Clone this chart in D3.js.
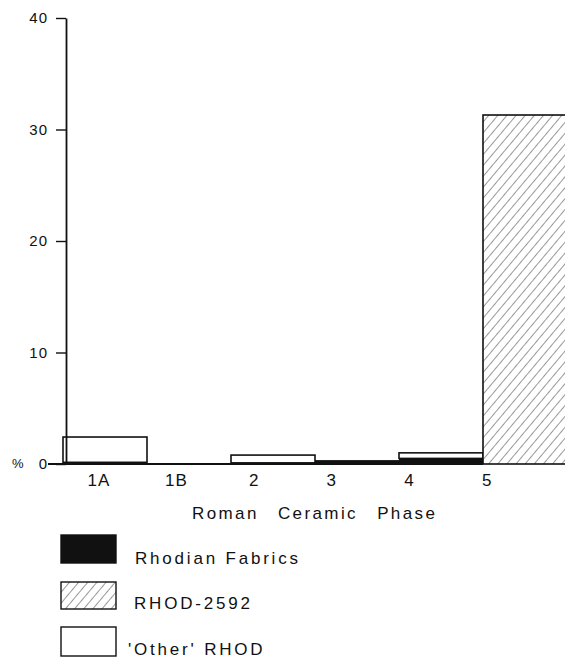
<!DOCTYPE html>
<html>
<head>
<meta charset="utf-8">
<script src="https://cdn.jsdelivr.net/npm/d3@7"></script>
<style>
  body { margin: 0; background: #fff; }
  text { font-family: "Liberation Sans", Arial, sans-serif; fill: #111; }
</style>
</head>
<body>
<div id="chart"></div>
<script>
// data
const phases = ["1A", "1B", "2", "3", "4", "5"];
const rhodian = [0.15, 0, 0.1, 0.35, 0.5, 0];
const other = [2.27, 0, 0.7, 0, 0.5, 0];
const rhod2592 = [0, 0, 0, 0, 0, 31.3];
const yTicks = [0, 10, 20, 30, 40];

const svg = d3.select('#chart')
  .append('svg')
  .attr('width', 565)
  .attr('height', 659);

const defs = svg.append("defs");
const hatch = defs.append("pattern")
  .attr("id", "hatch")
  .attr("patternUnits", "userSpaceOnUse")
  .attr("width", 7)
  .attr("height", 7)
  .attr("patternTransform", "rotate(40)");
hatch.append("rect").attr("width", 7).attr("height", 7).attr("fill", "#fff");
hatch.append("line")
  .attr("x1", 0).attr("y1", 0).attr("x2", 0).attr("y2", 7)
  .attr("stroke", "#333").attr("stroke-width", 1);

const x = d3.scaleBand()
  .domain(phases)
  .range([63, 567])
  .padding(0);

// labels in the original sit slightly left of the bars
const xLab = d3.scaleBand()
  .domain(phases)
  .range([60, 526]);

const y = d3.scaleLinear()
  .domain([0, 40])
  .range([464, 18]);

const rows = phases.map((p, i) => ({
  phase: p,
  rhodian: rhodian[i],
  other: other[i],
  rhod2592: rhod2592[i]
}));

// Bars: black Rhodian at bottom, white 'Other' on top, hatched RHOD-2592
const bars = svg.append("g");
bars.selectAll("rect.other")
  .data(rows.filter(d => d.other > 0))
  .join("rect")
  .attr("class", "other")
  .attr("x", d => x(d.phase))
  .attr("y", d => y(d.rhodian + d.other))
  .attr("width", x.bandwidth())
  .attr("height", d => y(d.rhodian) - y(d.rhodian + d.other))
  .attr("fill", "#fff")
  .attr("stroke", "#111")
  .attr("stroke-width", 1.6);

bars.selectAll("rect.rhodian")
  .data(rows.filter(d => d.rhodian > 0))
  .join("rect")
  .attr("class", "rhodian")
  .attr("x", d => x(d.phase))
  .attr("y", d => y(d.rhodian))
  .attr("width", x.bandwidth())
  .attr("height", d => y(0) - y(d.rhodian))
  .attr("fill", "#111");

bars.selectAll("rect.rhod2592")
  .data(rows.filter(d => d.rhod2592 > 0))
  .join("rect")
  .attr("class", "rhod2592")
  .attr("x", d => x(d.phase))
  .attr("y", d => y(d.rhod2592))
  .attr("width", x.bandwidth())
  .attr("height", d => y(0) - y(d.rhod2592))
  .attr("fill", "url(#hatch)")
  .attr("stroke", "#111")
  .attr("stroke-width", 1.6);

// Y axis
const yAxis = svg.append("g")
  .attr("transform", "translate(66,0)")
  .call(d3.axisLeft(y).tickValues(yTicks).tickSize(10).tickPadding(8).tickSizeOuter(0));
yAxis.select(".domain").attr("stroke", "#111").attr("stroke-width", 1.8);
yAxis.selectAll(".tick line").attr("stroke", "#111").attr("stroke-width", 1.4);
yAxis.selectAll(".tick text")
  .style("font-size", "15px")
  .style("letter-spacing", "1px")
  .attr("fill", "#111");

// baseline
svg.append("line")
  .attr("x1", 48).attr("x2", x("5"))
  .attr("y1", y(0)).attr("y2", y(0))
  .attr("stroke", "#111")
  .attr("stroke-width", 1.8);

svg.append("text")
  .attr("x", 12)
  .attr("y", y(0) + 4)
  .style("font-size", "13px")
  .text("%");

// X category labels
const xAxis = svg.append("g")
  .attr("transform", `translate(0,${y(0)})`)
  .call(d3.axisBottom(xLab).tickSize(0).tickPadding(10));
xAxis.select(".domain").remove();
xAxis.selectAll(".tick text")
  .style("font-size", "17px")
  .style("letter-spacing", "1px")
  .attr("fill", "#111");

svg.append("text")
  .attr("x", 192)
  .attr("y", 519)
  .style("font-size", "17px")
  .style("letter-spacing", "2.4px")
  .style("word-spacing", "12px")
  .text("Roman Ceramic Phase");

// Legend
const legendItems = [
  { label: "Rhodian Fabrics", fill: "#111", y: 535, h: 28, tx: 135, ty: 564 },
  { label: "RHOD-2592", fill: "url(#hatch)", y: 582, h: 27, tx: 134, ty: 609 },
  { label: "'Other' RHOD", fill: "#fff", y: 627, h: 29, tx: 128, ty: 655 }
];
const legend = svg.append("g");
legendItems.forEach(d => {
  legend.append("rect")
    .attr("x", 61)
    .attr("y", d.y)
    .attr("width", 55)
    .attr("height", d.h)
    .attr("fill", d.fill)
    .attr("stroke", "#111")
    .attr("stroke-width", 1.4);
  legend.append("text")
    .attr("x", d.tx)
    .attr("y", d.ty)
    .style("font-size", "17px")
    .style("letter-spacing", "2.8px")
    .text(d.label);
});
</script>
</body>
</html>
